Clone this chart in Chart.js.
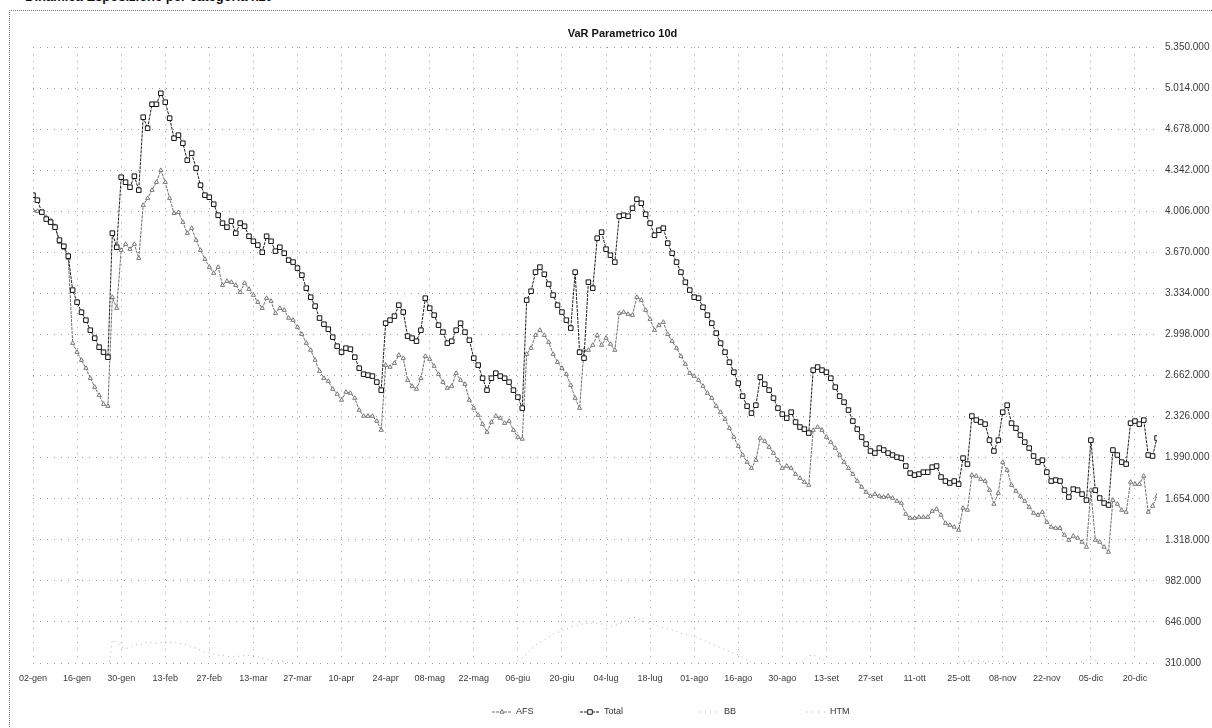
<!DOCTYPE html>
<html>
<head>
<meta charset="utf-8">
<script src="https://cdn.jsdelivr.net/npm/chart.js@4.4.1/dist/chart.umd.min.js"></script>
<style>
  html, body { margin: 0; padding: 0; background: #fff; overflow: hidden; }
  #wrap { position: relative; width: 1212px; height: 728px; }
  #frame { position: absolute; left: 9px; top: 10px; width: 1300px; height: 800px;
           border-top: 1px dotted #777; border-left: 1px dotted #777; }
  #head { position: absolute; left: 25px; top: -11px; font: bold 13px "Liberation Sans", Arial, sans-serif;
          color: #111; white-space: nowrap; }
  canvas { position: absolute; left: 0; top: 0; }
</style>
</head>
<body>
<div id="wrap">
  <div id="frame"></div>
  <div id="head">Dinamica Esposizione per categoria x10</div>
  <canvas id="graph1" width="1212" height="728"></canvas>
</div>
<script>
// tick labels on the category axis (one every 10 working days)
const tickLabels = ['02-gen', '16-gen', '30-gen', '13-feb', '27-feb', '13-mar', '27-mar', '10-apr', '24-apr',
    '08-mag', '22-mag', '06-giu', '20-giu', '04-lug', '18-lug', '01-ago', '16-ago', '30-ago', '13-set',
    '27-set', '11-ott', '25-ott', '08-nov', '22-nov', '05-dic', '20-dic']

const totalValues = [
    4139000, 4098000, 4000000, 3943000, 3918000, 3877000, 3771000, 3721000, 3640000, 3362000,
    3263000, 3181000, 3116000, 3034000, 2969000, 2895000, 2854000, 2813000, 3828000, 3713000,
    4286000, 4245000, 4204000, 4294000, 4180000, 4777000, 4687000, 4883000, 4883000, 4973000,
    4900000, 4769000, 4605000, 4630000, 4564000, 4425000, 4482000, 4360000, 4221000, 4139000,
    4122000, 4065000, 3975000, 3910000, 3877000, 3926000, 3828000, 3910000, 3885000, 3803000,
    3762000, 3730000, 3672000, 3803000, 3762000, 3681000, 3713000, 3664000, 3607000, 3591000,
    3542000, 3484000, 3378000, 3304000, 3231000, 3133000, 3083000, 3042000, 2977000, 2903000,
    2854000, 2887000, 2879000, 2813000, 2723000, 2674000, 2666000, 2658000, 2609000, 2543000,
    3091000, 3116000, 3149000, 3239000, 3182000, 2985000, 2969000, 2944000, 3034000, 3296000,
    3214000, 3157000, 3075000, 3018000, 2928000, 2944000, 3034000, 3091000, 3018000, 2952000,
    2805000, 2748000, 2641000, 2543000, 2641000, 2682000, 2658000, 2641000, 2609000, 2543000,
    2486000, 2396000, 3280000, 3353000, 3509000, 3550000, 3492000, 3411000, 3321000, 3239000,
    3182000, 3116000, 3051000, 3509000, 2854000, 2805000, 3427000, 3378000, 3787000, 3836000,
    3697000, 3648000, 3591000, 3967000, 3975000, 3967000, 4032000, 4106000, 4073000, 3983000,
    3910000, 3811000, 3852000, 3869000, 3746000, 3664000, 3591000, 3509000, 3427000, 3362000,
    3304000, 3296000, 3222000, 3157000, 3091000, 3010000, 2928000, 2854000, 2772000, 2690000,
    2600000, 2494000, 2412000, 2355000, 2420000, 2650000, 2592000, 2543000, 2478000, 2396000,
    2347000, 2314000, 2363000, 2282000, 2241000, 2224000, 2192000, 2707000, 2732000, 2707000,
    2690000, 2641000, 2568000, 2494000, 2445000, 2380000, 2290000, 2224000, 2159000, 2102000,
    2045000, 2028000, 2069000, 2053000, 2028000, 2012000, 1995000, 1987000, 1922000, 1864000,
    1848000, 1856000, 1872000, 1872000, 1913000, 1922000, 1832000, 1799000, 1783000, 1799000,
    1774000, 1987000, 1938000, 2331000, 2298000, 2282000, 2265000, 2134000, 2045000, 2134000,
    2363000, 2420000, 2273000, 2232000, 2175000, 2118000, 2069000, 2004000, 1954000, 1970000,
    1872000, 1799000, 1807000, 1799000, 1725000, 1668000, 1733000, 1725000, 1692000, 1643000,
    2134000, 1725000, 1660000, 1619000, 1603000, 2053000, 2012000, 1954000, 1938000, 2273000,
    2290000, 2265000, 2298000, 2012000, 2004000, 2151000
]

const afsValues = [
    4016000, 4008000, 3991000, 3959000, 3934000, 3885000, 3754000, 3705000, 3623000, 2928000,
    2854000, 2789000, 2723000, 2641000, 2568000, 2502000, 2429000, 2412000, 3304000, 3214000,
    3689000, 3738000, 3697000, 3738000, 3623000, 4057000, 4114000, 4180000, 4245000, 4343000,
    4245000, 4114000, 3991000, 3999000, 3918000, 3828000, 3869000, 3771000, 3689000, 3615000,
    3550000, 3501000, 3550000, 3402000, 3435000, 3427000, 3402000, 3345000, 3419000, 3370000,
    3321000, 3263000, 3214000, 3296000, 3272000, 3173000, 3214000, 3198000, 3133000, 3116000,
    3059000, 3001000, 2928000, 2871000, 2789000, 2699000, 2641000, 2617000, 2552000, 2511000,
    2462000, 2527000, 2519000, 2478000, 2380000, 2331000, 2331000, 2331000, 2290000, 2216000,
    2748000, 2732000, 2764000, 2830000, 2805000, 2625000, 2576000, 2552000, 2641000, 2821000,
    2797000, 2740000, 2674000, 2609000, 2560000, 2576000, 2682000, 2625000, 2592000, 2462000,
    2396000, 2339000, 2265000, 2200000, 2282000, 2331000, 2314000, 2273000, 2290000, 2216000,
    2159000, 2143000, 2838000, 2887000, 2993000, 3034000, 2993000, 2936000, 2838000, 2772000,
    2723000, 2674000, 2584000, 2478000, 2396000, 2871000, 2871000, 2912000, 2993000, 2912000,
    2969000, 2920000, 2871000, 3173000, 3182000, 3165000, 3157000, 3304000, 3280000, 3198000,
    3124000, 3034000, 3075000, 3100000, 3001000, 2944000, 2887000, 2821000, 2756000, 2682000,
    2658000, 2625000, 2576000, 2519000, 2478000, 2412000, 2363000, 2306000, 2232000, 2159000,
    2085000, 2012000, 1954000, 1905000, 1970000, 2151000, 2126000, 2077000, 2028000, 1970000,
    1905000, 1922000, 1905000, 1856000, 1823000, 1791000, 1766000, 2216000, 2241000, 2216000,
    2159000, 2118000, 2069000, 2012000, 1954000, 1905000, 1856000, 1799000, 1750000, 1709000,
    1676000, 1692000, 1676000, 1668000, 1676000, 1660000, 1635000, 1619000, 1529000, 1496000,
    1496000, 1504000, 1504000, 1504000, 1553000, 1570000, 1521000, 1455000, 1439000, 1423000,
    1398000, 1578000, 1562000, 1848000, 1840000, 1815000, 1799000, 1725000, 1611000, 1701000,
    1954000, 1889000, 1766000, 1717000, 1676000, 1635000, 1586000, 1537000, 1521000, 1545000,
    1463000, 1423000, 1414000, 1414000, 1357000, 1316000, 1349000, 1333000, 1300000, 1259000,
    1725000, 1316000, 1300000, 1259000, 1218000, 1643000, 1611000, 1562000, 1545000, 1791000,
    1774000, 1774000, 1840000, 1545000, 1595000, 1676000
]

const bbValues = [
    270000, 268000, 265000, 262000, 260000, 258000, 255000, 252000, 250000, 248000,
    246000, 244000, 242000, 240000, 238000, 236000, 235000, 236000, 498000, 480000,
    440000, 424000, 440000, 457000, 460000, 470000, 482000, 475000, 470000, 478000,
    482000, 480000, 482000, 475000, 465000, 455000, 441000, 430000, 415000, 400000,
    392000, 385000, 375000, 372000, 365000, 359000, 362000, 367000, 370000, 375000,
    372000, 360000, 350000, 340000, 332000, 326000, 326000, 322000, 310000, 295000,
    280000, 270000, 260000, 248000, 240000, 232000, 225000, 220000, 218000, 222000,
    226000, 230000, 228000, 225000, 220000, 222000, 225000, 228000, 230000, 226000,
    232000, 238000, 242000, 246000, 250000, 246000, 240000, 236000, 240000, 248000,
    254000, 258000, 255000, 250000, 246000, 240000, 236000, 232000, 228000, 225000,
    230000, 236000, 242000, 248000, 255000, 262000, 270000, 282000, 295000, 310000,
    330000, 350000, 380000, 420000, 455000, 480000, 500000, 520000, 545000, 560000,
    575000, 590000, 605000, 615000, 625000, 630000, 635000, 640000, 637000, 630000,
    620000, 612000, 615000, 630000, 650000, 665000, 685000, 680000, 660000, 645000,
    637000, 625000, 610000, 600000, 590000, 580000, 570000, 555000, 547000, 535000,
    522000, 515000, 500000, 480000, 465000, 449000, 435000, 420000, 405000, 392000,
    375000, 355000, 335000, 315000, 300000, 294000, 300000, 305000, 310000, 300000,
    292000, 285000, 280000, 277000, 300000, 340000, 370000, 375000, 360000, 340000,
    320000, 300000, 285000, 270000, 260000, 253000, 240000, 225000, 210000, 200000,
    192000, 187000, 185000, 188000, 192000, 196000, 200000, 205000, 210000, 215000,
    222000, 230000, 240000, 250000, 258000, 266000, 274000, 282000, 290000, 300000,
    312000, 320000, 326000, 328000, 330000, 326000, 322000, 324000, 326000, 328000,
    326000, 320000, 310000, 298000, 285000, 272000, 262000, 255000, 253000, 258000,
    265000, 272000, 280000, 286000, 292000, 294000, 300000, 310000, 322000, 335000,
    343000, 330000, 310000, 290000, 272000, 258000, 253000, 255000, 258000, 261000,
    262000, 265000, 268000, 270000, 272000, 275000
]

const htmValues = [
    152000, 150000, 149000, 151000, 153000, 150000, 148000, 147000, 149000, 151000,
    154000, 156000, 155000, 153000, 150000, 148000, 147000, 146000, 160000, 162000,
    165000, 166000, 164000, 163000, 165000, 168000, 170000, 169000, 167000, 166000,
    168000, 170000, 171000, 169000, 167000, 165000, 164000, 166000, 168000, 170000,
    172000, 171000, 169000, 168000, 170000, 172000, 174000, 173000, 171000, 170000,
    168000, 166000, 165000, 167000, 169000, 171000, 170000, 168000, 166000, 164000,
    162000, 160000, 159000, 158000, 157000, 156000, 155000, 154000, 153000, 152000,
    151000, 152000, 154000, 155000, 153000, 151000, 150000, 149000, 148000, 147000,
    158000, 160000, 161000, 163000, 162000, 160000, 158000, 157000, 159000, 161000,
    162000, 160000, 158000, 157000, 155000, 154000, 156000, 158000, 157000, 155000,
    153000, 151000, 150000, 148000, 147000, 149000, 150000, 151000, 150000, 149000,
    148000, 147000, 160000, 163000, 166000, 168000, 170000, 169000, 167000, 165000,
    164000, 162000, 161000, 163000, 160000, 162000, 165000, 167000, 170000, 172000,
    171000, 170000, 169000, 173000, 175000, 174000, 176000, 178000, 177000, 175000,
    173000, 171000, 172000, 173000, 170000, 168000, 166000, 164000, 162000, 160000,
    159000, 158000, 156000, 155000, 153000, 151000, 150000, 148000, 147000, 145000,
    143000, 142000, 140000, 139000, 141000, 146000, 145000, 143000, 141000, 139000,
    138000, 137000, 138000, 136000, 135000, 134000, 133000, 145000, 147000, 146000,
    145000, 143000, 141000, 139000, 137000, 135000, 133000, 131000, 130000, 128000,
    127000, 126000, 127000, 128000, 127000, 126000, 125000, 124000, 122000, 120000,
    119000, 119000, 120000, 120000, 121000, 122000, 120000, 118000, 117000, 116000,
    115000, 120000, 119000, 128000, 127000, 126000, 125000, 122000, 120000, 122000,
    128000, 127000, 124000, 122000, 121000, 119000, 118000, 116000, 115000, 116000,
    114000, 113000, 113000, 113000, 111000, 110000, 111000, 110000, 109000, 108000,
    118000, 110000, 109000, 108000, 107000, 116000, 115000, 114000, 113000, 118000,
    118000, 118000, 119000, 114000, 115000, 117000
]

const yMin = 310000
const yMax = 5350000
const yStep = 336000

const FONT = '"Liberation Sans", Arial, sans-serif'

function formatThousands(v) {
    return String(Math.round(v)).replace(/\B(?=(\d{3})+(?!\d))/g, '.')
}

// legend drawn in one row under the axis, like the original spreadsheet legend
const bottomLegend = {
    id: 'bottomLegend',
    afterDraw(chart, args, opts) {
        const ctx = chart.ctx
        ctx.save()
        ctx.font = '9px ' + FONT
        ctx.textBaseline = 'middle'
        chart.data.datasets.forEach((ds, i) => {
            const x = opts.starts[i]
            const y = opts.y
            ctx.strokeStyle = ds.borderColor
            ctx.lineWidth = 1
            ctx.setLineDash(ds.borderDash || [])
            ctx.beginPath()
            ctx.moveTo(x, y)
            ctx.lineTo(x + 20, y)
            ctx.stroke()
            ctx.setLineDash([])
            if (ds.pointRadius > 0) {
                ctx.fillStyle = ds.pointBackgroundColor
                ctx.strokeStyle = ds.pointBorderColor
                Chart.helpers.drawPoint(ctx, {
                    pointStyle: ds.pointStyle, radius: ds.pointRadius,
                    borderWidth: 1, rotation: 0
                }, x + 10, y)
            }
            ctx.fillStyle = '#333'
            ctx.fillText(ds.label, x + 24, y)
        })
        ctx.restore()
    }
}

const data1 = {
    labels: totalValues.map((v, i) => i),
    datasets: [{
        label: 'AFS',
        data: afsValues,
        borderColor: '#6e6e6e',
        borderWidth: 1,
        borderDash: [3, 1],
        pointStyle: 'triangle',
        pointRadius: 2.4,
        pointBorderWidth: 1,
        pointBackgroundColor: '#fff',
        pointBorderColor: '#777',
        order: 2
    }, {
        label: 'Total',
        data: totalValues,
        borderColor: '#1e1e1e',
        borderWidth: 1,
        borderDash: [3, 1],
        pointStyle: 'rect',
        pointRadius: 3.2,
        pointBorderWidth: 1,
        pointBackgroundColor: '#fff',
        pointBorderColor: '#111',
        order: 1
    }, {
        label: 'BB',
        data: bbValues,
        borderColor: '#b0b0b0',
        borderWidth: 1,
        borderDash: [1, 4],
        pointRadius: 0,
        order: 3
    }, {
        label: 'HTM',
        data: htmValues,
        borderColor: '#b5b5b5',
        borderWidth: 1,
        borderDash: [1, 5],
        pointRadius: 0,
        order: 4
    }]
}

const config = {
    type: 'line',
    data: data1,
    options: {
        responsive: false,
        animation: false,
        layout: { padding: { top: 24, left: 33, right: 0, bottom: 43 } },
        elements: { line: { tension: 0 } },
        scales: {
            x: {
                type: 'linear',
                min: 0,
                max: totalValues.length - 1,
                border: { display: false, dash: [1, 6] },
                grid: { color: '#9a9a9a', drawTicks: false },
                ticks: {
                    stepSize: 10,
                    includeBounds: false,
                    autoSkip: false,
                    maxRotation: 0,
                    padding: 10,
                    color: '#3a3a3a',
                    font: { family: FONT, size: 9 },
                    callback: (v) => tickLabels[v / 10] || ''
                },
                afterFit: (scale) => { scale.height = 22 }
            },
            y: {
                position: 'right',
                min: yMin,
                max: yMax,
                border: { display: false, dash: [1, 6] },
                grid: { color: '#9a9a9a', drawTicks: false },
                ticks: {
                    stepSize: yStep,
                    padding: 8,
                    color: '#3a3a3a',
                    font: { family: FONT, size: 10 },
                    callback: (v) => formatThousands(v)
                },
                afterFit: (scale) => { scale.width = 55 }
            }
        },
        plugins: {
            legend: { display: false },
            tooltip: { enabled: false },
            title: {
                display: true,
                text: 'VaR Parametrico 10d',
                color: '#111',
                font: { family: FONT, size: 11, weight: 'bold' },
                padding: { top: 3, bottom: 7 }
            },
            bottomLegend: { y: 712, starts: [492, 580, 700, 806] }
        }
    },
    plugins: [bottomLegend]
}

const ctx = document.getElementById('graph1').getContext('2d')
new Chart(ctx, config)
</script>
</body>
</html>
